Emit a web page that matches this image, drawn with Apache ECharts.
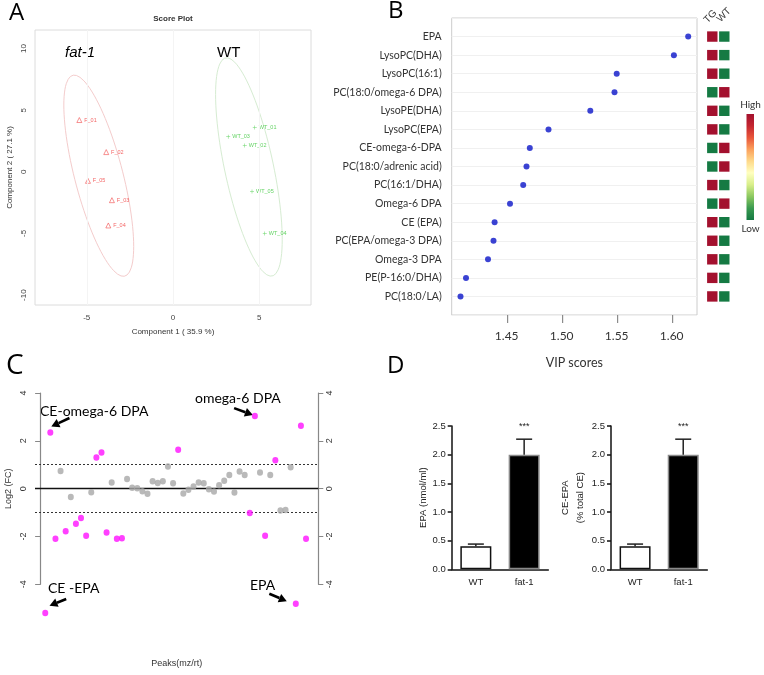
<!DOCTYPE html>
<html>
<head>
<meta charset="utf-8">
<script src="https://cdn.jsdelivr.net/npm/echarts@6/dist/echarts.min.js"></script>
<style>
html,body{margin:0;padding:0;background:#fff;}
#c{width:764px;height:675px;}
</style>
</head>
<body>
<div id="c"></div>
<script>
// ---------- Panel A: PLS-DA score plot ----------
const fatLabels = ['F_01','F_02','F_05','F_03','F_04'];
const fatX = [-5.43,-3.87,-4.93,-3.54,-3.75];
const fatY = [4.2,1.6,-0.73,-2.3,-4.35];
const wtLabels = ['WT_01','WT_03','WT_02','WT_05','WT_04'];
const wtX = [4.74,3.2,4.16,4.58,5.32];
const wtY = [3.6,2.84,2.13,-1.6,-5.0];
const scoreTicks = [-5,0,5];
const scoreYTicks = [-10,-5,0,5,10];

// ---------- Panel B: VIP scores ----------
const vipNames = ['EPA','LysoPC(DHA)','LysoPC(16:1)','PC(18:0/omega-6 DPA)','LysoPE(DHA)','LysoPC(EPA)',
  'CE-omega-6-DPA','PC(18:0/adrenic acid)','PC(16:1/DHA)','Omega-6 DPA','CE (EPA)','PC(EPA/omega-3 DPA)',
  'Omega-3 DPA','PE(P-16:0/DHA)','PC(18:0/LA)'];
const vipScores = [1.615,1.602,1.550,1.548,1.526,1.488,1.471,1.468,1.465,1.453,1.439,1.438,1.433,1.413,1.408];
const vipTicks = [1.45,1.50,1.55,1.60];
const heatGroups = ['TG','WT'];
const heatTG = [1,1,1,0,1,1,0,0,1,0,1,1,1,1,1];
const heatWT = [0,0,0,1,0,0,1,1,0,1,0,0,0,0,0];
const heatLegendText = ['High','Low'];

// ---------- Panel C: log2 fold change ----------
const fcValues = [-5.2,2.35,-2.1,0.74,-1.78,-0.35,-1.47,-1.23,-1.97,-0.15,1.3,1.51,-1.83,0.26,-2.1,-2.07,
  0.40,0.04,0.02,-0.11,-0.21,0.31,0.24,0.31,0.93,0.23,1.63,-0.2,-0.05,0.09,0.26,0.23,-0.03,-0.12,0.14,0.33,
  0.57,-0.16,0.72,0.57,-1.02,3.04,0.68,-1.97,0.57,1.19,-0.91,-0.89,0.89,-4.81,2.63,-2.1];

// ---------- Panel D: bars ----------
const barGroups = ['WT','fat-1'];
const epaMean = [0.40,2.00];
const epaSem = [0.04,0.27];
const ceEpaMean = [0.40,2.00];
const ceEpaSem = [0.04,0.27];
const sigMarks = ['','***'];

// confidence ellipse (95%) from points
function ellipse(xs, ys){
  const n = xs.length;
  const mx = xs.reduce((a,b)=>a+b,0)/n, my = ys.reduce((a,b)=>a+b,0)/n;
  let sxx=0, syy=0, sxy=0;
  for(let i=0;i<n;i++){ sxx+=(xs[i]-mx)**2; syy+=(ys[i]-my)**2; sxy+=(xs[i]-mx)*(ys[i]-my); }
  sxx/=(n-1); syy/=(n-1); sxy/=(n-1);
  const k = Math.sqrt(5.991);
  const l11 = Math.sqrt(sxx), l21 = sxy/l11, l22 = Math.sqrt(Math.max(syy - l21*l21, 0));
  const pts = [];
  for(let t=0;t<=100;t++){
    const a = t/100*2*Math.PI, c=Math.cos(a), s=Math.sin(a);
    pts.push([mx + k*(l11*c), my + k*(l21*c + l22*s)]);
  }
  return pts;
}

const chart = echarts.init(document.getElementById('c'));
const RED = '#f03c3c', GREEN = '#3cc83c';
const plusPath = 'path://M-0.12,-1H0.12V-0.12H1V0.12H0.12V1H-0.12V0.12H-1V-0.12H-0.12Z';
const calibri = 'Lato';
const arial = 'Liberation Sans';
const heatPalette = ['#157a43','#3a9a50','#8cc860','#d8ee8a','#ffffc0','#fed98a','#fba05c','#e8553a','#c42630','#a3112e'];

const option = {
  animation: false,
  backgroundColor: '#fff',
  grid: [
    {left:35, top:30, width:276, height:275, show:true, borderColor:'#dcdcdc', borderWidth:1},
    {left:451.7, top:18, width:245.3, height:297, show:true, borderColor:'#cccccc', borderWidth:1},
    {left:706.3, top:18, width:24, height:297},
    {left:35, top:393, width:283.3, height:191.3},
    {left:451.7, top:426, width:96.6, height:143.3},
    {left:611, top:426, width:96.3, height:143.3}
  ],
  xAxis: [
    {gridIndex:0, type:'value', min:-8, max:8,
      axisLine:{show:false}, axisTick:{show:false}, splitLine:{show:false},
      axisLabel:{customValues:scoreTicks, fontSize:8, color:'#444', fontFamily:arial, margin:9},
      name:'Component 1 ( 35.9 %)', nameLocation:'middle', nameGap:23,
      nameTextStyle:{fontSize:8, color:'#333', fontFamily:arial}},
    {gridIndex:1, type:'value', min:1.40, max:1.623, position:'bottom',
      axisLine:{show:false, onZero:false}, splitLine:{show:false}, axisTick:{show:false},
      axisLabel:{customValues:vipTicks, formatter:v=>v.toFixed(2), fontSize:12, color:'#333', fontFamily:calibri, margin:15},
      name:'VIP scores', nameLocation:'middle', nameGap:41,
      nameTextStyle:{fontSize:12.5, color:'#333', fontFamily:calibri}},
    {gridIndex:2, type:'category', data:heatGroups, position:'top', show:false},
    {gridIndex:3, type:'value', min:-1, max:54.4, show:true,
      axisLine:{show:false, onZero:false}, axisTick:{show:false}, axisLabel:{show:false}, splitLine:{show:false},
      name:'Peaks(mz/rt)', nameLocation:'middle', nameGap:75,
      nameTextStyle:{fontSize:9, color:'#333', fontFamily:arial}},
    {gridIndex:4, type:'category', data:barGroups,
      axisLine:{onZero:false, lineStyle:{color:'#111', width:1.5}}, axisTick:{show:false},
      axisLabel:{fontSize:9.5, color:'#222', margin:8, fontFamily:arial}},
    {gridIndex:5, type:'category', data:barGroups,
      axisLine:{onZero:false, lineStyle:{color:'#111', width:1.5}}, axisTick:{show:false},
      axisLabel:{fontSize:9.5, color:'#222', margin:8, fontFamily:arial}}
  ],
  yAxis: [
    {gridIndex:0, type:'value', min:-10.8, max:11.5,
      axisLine:{show:false}, axisTick:{show:false}, splitLine:{show:false},
      axisLabel:{customValues:scoreYTicks, rotate:90, fontSize:8, color:'#444', fontFamily:arial, margin:7},
      name:'Component 2 ( 27.1 %)', nameLocation:'middle', nameGap:21,
      nameTextStyle:{fontSize:8, color:'#333', fontFamily:arial}},
    {gridIndex:1, type:'value', min:-1, max:15, interval:1, inverse:true,
      axisLine:{show:false}, axisTick:{show:false},
      splitLine:{show:true, lineStyle:{color:'#f0f0f0'}},
      axisLabel:{fontSize:10.5, color:'#333', fontFamily:calibri, margin:10,
        formatter:v=> (v>=0 && v<vipNames.length) ? vipNames[v] : ''}},
    {gridIndex:2, type:'value', min:-1, max:15, inverse:true, show:false},
    {gridIndex:3, type:'value', min:-4, max:4, interval:2, position:'left',
      axisLine:{show:true, lineStyle:{color:'#888', width:1.2}},
      axisTick:{show:true, length:5, lineStyle:{color:'#888'}},
      splitLine:{show:false},
      axisLabel:{rotate:90, fontSize:9, color:'#333', fontFamily:arial, margin:7},
      name:'Log2 (FC)', nameLocation:'middle', nameGap:22,
      nameTextStyle:{fontSize:9, color:'#333', fontFamily:arial}},
    {gridIndex:3, type:'value', min:-4, max:4, interval:2, position:'right',
      axisLine:{show:true, lineStyle:{color:'#888', width:1.2}},
      axisTick:{show:true, length:5, lineStyle:{color:'#888'}},
      splitLine:{show:false},
      axisLabel:{rotate:90, fontSize:9, color:'#333', fontFamily:arial, margin:7}},
    {gridIndex:4, type:'value', min:0, max:2.5, interval:0.5,
      axisLine:{show:true, lineStyle:{color:'#111', width:1.5}},
      axisTick:{show:true, length:4, lineStyle:{color:'#111', width:1.5}},
      splitLine:{show:false},
      axisLabel:{formatter:v=>v.toFixed(1), fontSize:9.5, color:'#222', fontFamily:arial, margin:6},
      name:'EPA (nmol/ml)', nameLocation:'middle', nameGap:23,
      nameTextStyle:{fontSize:9.5, color:'#222', fontFamily:arial}},
    {gridIndex:5, type:'value', min:0, max:2.5, interval:0.5,
      axisLine:{show:true, lineStyle:{color:'#111', width:1.5}},
      axisTick:{show:true, length:4, lineStyle:{color:'#111', width:1.5}},
      splitLine:{show:false},
      axisLabel:{formatter:v=>v.toFixed(1), fontSize:9.5, color:'#222', fontFamily:arial, margin:6},
      name:'CE-EPA\n(% total CE)', nameLocation:'middle', nameGap:22,
      nameTextStyle:{fontSize:9.5, color:'#222', fontFamily:arial, lineHeight:15, align:'center'}}
  ],
  visualMap: {
    type:'continuous', min:0, max:1, dimension:2, seriesIndex:7, show:false,
    inRange:{color:heatPalette}
  },
  series: []
};

const S = option.series;
// 0,1 ellipses
S.push({type:'line', xAxisIndex:0, yAxisIndex:0, data:ellipse(fatX, fatY), showSymbol:false, silent:true,
  lineStyle:{color:'#f4cccc', width:1}, z:1,
  markLine:{silent:true, symbol:'none', label:{show:false},
    lineStyle:{color:'#f4f4f4', width:1, type:'solid'},
    data: scoreTicks.map(v=>({xAxis:v}))}});
S.push({type:'line', xAxisIndex:0, yAxisIndex:0, data:ellipse(wtX, wtY), showSymbol:false, silent:true,
  lineStyle:{color:'#d6ecd2', width:1}, z:1});
// 2,3 score points
S.push({type:'scatter', xAxisIndex:0, yAxisIndex:0, symbol:'triangle', symbolSize:5,
  itemStyle:{color:'rgba(0,0,0,0)', borderColor:RED, borderWidth:0.7},
  label:{show:true, position:'right', distance:2, formatter:p=>p.data.name, fontSize:5.5, color:RED, fontFamily:arial},
  data: fatX.map((x,i)=>({name:fatLabels[i], value:[x, fatY[i]]}))});
S.push({type:'scatter', xAxisIndex:0, yAxisIndex:0, symbol:plusPath, symbolSize:4,
  itemStyle:{color:GREEN},
  label:{show:true, position:'right', distance:2, formatter:p=>p.data.name, fontSize:5.5, color:GREEN, fontFamily:arial},
  data: wtX.map((x,i)=>({name:wtLabels[i], value:[x, wtY[i]]}))});
// 4 VIP dots
S.push({type:'scatter', xAxisIndex:1, yAxisIndex:1, symbolSize:6, itemStyle:{color:'#0a14c8'},
  data: vipScores.map((v,i)=>[v,i])});
// 5,6 fold-change points
const sig = [], nonsig = [];
fcValues.forEach((v,i)=>{ (Math.abs(v)>1 ? sig : nonsig).push([i+1, v]); });
S.push({type:'scatter', xAxisIndex:3, yAxisIndex:3, clip:false, symbolSize:[6,6.5],
  itemStyle:{color:'#a8a8a8'}, data:nonsig, z:3,
  markLine:{silent:true, symbol:'none', label:{show:false}, z:2,
    data:[{yAxis:0, lineStyle:{color:'#111', width:1.4, type:'solid'}},
          {yAxis:1, lineStyle:{color:'#333', width:1, type:[2,2]}},
          {yAxis:-1, lineStyle:{color:'#333', width:1, type:[2,2]}}]}});
S.push({type:'scatter', xAxisIndex:3, yAxisIndex:3, clip:false, symbolSize:[6,6.5],
  itemStyle:{color:'#ff10ff'}, data:sig, z:4});
// 7 heatmap cells
const heatData = [];
heatTG.forEach((v,i)=>heatData.push([0,i,v]));
heatWT.forEach((v,i)=>heatData.push([1,i,v]));
S.push({type:'custom', xAxisIndex:2, yAxisIndex:2, data:heatData,
  renderItem:(params, api)=>{
    const p = api.coord([api.value(0), api.value(1)]);
    return {type:'rect', shape:{x:p[0]-5.2, y:p[1]-5.2, width:10.4, height:10.4},
      style:{fill:api.visual('color')}};
  }});
// 8-11 bars + error bars
function errBar(xi, yi, means, sems){
  return {type:'custom', xAxisIndex:xi, yAxisIndex:yi, z:5,
    data: means.map((m,i)=>[i, m, sems[i]]),
    renderItem:(params, api)=>{
      const p0 = api.coord([api.value(0), api.value(1)]);
      const p1 = api.coord([api.value(0), api.value(1)+api.value(2)]);
      const c = '#222';
      return {type:'group', children:[
        {type:'line', shape:{x1:p0[0], y1:p0[1], x2:p1[0], y2:p1[1]}, style:{stroke:c, lineWidth:1.5}},
        {type:'line', shape:{x1:p1[0]-8, y1:p1[1], x2:p1[0]+8, y2:p1[1]}, style:{stroke:c, lineWidth:1.5}},
        {type:'text', style:{text:sigMarks[params.dataIndex], x:p1[0], y:p1[1]-13, align:'center',
          verticalAlign:'middle', fontSize:9, fill:'#222', fontFamily:arial}}
      ]};
    }};
}
function bars(xi, yi, means){
  return {type:'bar', xAxisIndex:xi, yAxisIndex:yi, barWidth:31,
    data: means.map((m,i)=>({value:m, itemStyle: i===0
      ? {color:'#fff', borderColor:'#111', borderWidth:1.5}
      : {color:'#000', borderColor:'#8a8a8a', borderWidth:1.5}}))};
}
S.push(bars(4,5,epaMean));
S.push(errBar(4,5,epaMean,epaSem));
S.push(bars(5,6,ceEpaMean));
S.push(errBar(5,6,ceEpaMean,ceEpaSem));

// colour bar legend (same palette as the cell colour mapping)
const gradStops = heatPalette.slice().reverse().map((c,i,a)=>({offset:i/(a.length-1), color:c}));

const letterFont = 'Open Sans';
option.graphic = [
  {type:'text', left:9, top:1, style:{text:'A', fontSize:24, fill:'#000', fontFamily:letterFont}},
  {type:'text', left:388, top:-1, style:{text:'B', fontSize:24, fill:'#000', fontFamily:letterFont}},
  {type:'text', left:6, top:352, style:{text:'C', fontSize:28, fill:'#000', fontFamily:letterFont}},
  {type:'text', left:387, top:354, style:{text:'D', fontSize:24, fill:'#000', fontFamily:letterFont}},
  {type:'text', x:173, y:19, style:{text:'Score Plot', fontSize:8, fontWeight:'bold', fill:'#333', align:'center', verticalAlign:'middle', fontFamily:arial}},
  {type:'text', x:65, y:53, style:{text:'fat-1', fontSize:15, fontStyle:'italic', fill:'#000', verticalAlign:'middle', fontFamily:arial}},
  {type:'text', x:217, y:53, style:{text:'WT', fontSize:15, fill:'#000', verticalAlign:'middle', fontFamily:arial}},
  {type:'text', x:40, y:411, style:{text:'CE-omega-6 DPA', fontSize:14, fill:'#000', verticalAlign:'middle', fontFamily:calibri}},
  {type:'text', x:195, y:398, style:{text:'omega-6 DPA', fontSize:14, fill:'#000', verticalAlign:'middle', fontFamily:calibri}},
  {type:'text', x:48, y:588, style:{text:'CE -EPA', fontSize:14, fill:'#000', verticalAlign:'middle', fontFamily:calibri}},
  {type:'text', x:250, y:585, style:{text:'EPA', fontSize:14, fill:'#000', verticalAlign:'middle', fontFamily:calibri}},
  {type:'text', x:709, y:25, rotation:Math.PI/4,
    style:{text:heatGroups[0], fontSize:10, fill:'#333', align:'left', verticalAlign:'bottom', fontFamily:arial}},
  {type:'text', x:722, y:24, rotation:Math.PI/4,
    style:{text:heatGroups[1], fontSize:10, fill:'#333', align:'left', verticalAlign:'bottom', fontFamily:arial}},
  {type:'rect', shape:{x:746.5, y:114, width:7.5, height:106},
    style:{fill:new echarts.graphic.LinearGradient(0,0,0,1,gradStops)}},
  {type:'text', x:750.5, y:105, style:{text:heatLegendText[0], fontSize:10, fill:'#333', align:'center', verticalAlign:'middle', fontFamily:calibri}},
  {type:'text', x:750.5, y:229, style:{text:heatLegendText[1], fontSize:10, fill:'#333', align:'center', verticalAlign:'middle', fontFamily:calibri}}
];

chart.setOption(option);

// VIP axis tick marks below the frame (positions from the axis scale)
const tickEls = [];
vipTicks.forEach(v=>{
  const px = chart.convertToPixel({xAxisIndex:1}, v);
  const py = chart.convertToPixel({yAxisIndex:1}, 15);
  if (isFinite(px) && isFinite(py)) {
    const x = Math.round(px) + 0.5, y = Math.round(py);
    tickEls.push({type:'rect', z:100, shape:{x:x-0.5, y:y, width:1.2, height:8}, style:{fill:'#8c8c8c'}});
  }
});

// arrows pointing at the annotated fold-change points
function arrow(idx, dx, dy, len, angleDeg){
  const p = chart.convertToPixel({gridIndex:3}, [idx+1, fcValues[idx]]);
  const hx = p[0]+dx, hy = p[1]+dy;
  const a = angleDeg*Math.PI/180;
  const ux = Math.cos(a), uy = Math.sin(a);
  const tx = hx - ux*len, ty = hy - uy*len;
  const hl = 8, hw = 4.5;
  const bx = hx - ux*hl, by = hy - uy*hl;
  return [
    {type:'line', shape:{x1:tx, y1:ty, x2:bx, y2:by}, style:{stroke:'#000', lineWidth:2.6}},
    {type:'polygon', shape:{points:[[hx,hy],[bx - uy*hw, by + ux*hw],[bx + uy*hw, by - ux*hw]]}, style:{fill:'#000'}}
  ];
}
const extra = [].concat(
  arrow(1, 1, -6, 20, 155),
  arrow(41, -2, -1, 20, 20),
  arrow(0, 4.3, -7.3, 18, 158),
  arrow(49, -9, -2.5, 19, 23),
  tickEls
);
chart.setOption({graphic: option.graphic.concat(extra)});
</script>
</body>
</html>
